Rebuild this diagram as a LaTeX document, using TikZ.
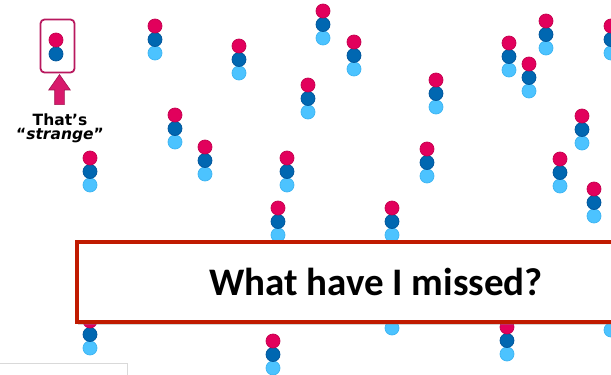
\documentclass[tikz,border=0pt]{standalone}
\usepackage{fontspec}
\setmainfont{DejaVu Sans}
\newfontfamily\calfont{Carlito}
\usepackage{xcolor}
\definecolor{dotred}{HTML}{E2005C}
\definecolor{dotreddark}{HTML}{C4004E}
\definecolor{dotblue}{HTML}{0067B1}
\definecolor{dotbluedark}{HTML}{00549A}
\definecolor{dotlight}{HTML}{4CC3FF}
\definecolor{dotlightdark}{HTML}{3DB4F2}
\definecolor{oddone}{HTML}{B8185E}
\definecolor{arrowpink}{HTML}{D8196C}
\definecolor{frame}{HTML}{C01A00}
\usetikzlibrary{shapes.arrows,shadows,positioning}

\begin{document}
\begin{tikzpicture}[x=1pt,y=-1pt,
  dot/.style={circle,inner sep=0pt,minimum size=14pt,line width=0.7pt},
  dotr/.style={dot,fill=dotred,draw=dotreddark},
  dotb/.style={dot,fill=dotblue,draw=dotbluedark},
  dotl/.style={dot,fill=dotlight,draw=dotlightdark},
  oddbox/.style={rectangle,rounded corners=4pt,draw=oddone,line width=1.8pt,
    minimum width=34pt,minimum height=53pt},
  uparr/.style={single arrow,fill=arrowpink,draw=arrowpink!75!black,line width=0.6pt,
    shape border rotate=90,single arrow head extend=6pt,
    minimum height=30pt,inner sep=4.5pt,single arrow tip angle=70},
  note/.style={font=\bfseries\fontsize{15.5}{17}\selectfont,align=center},
  bigbox/.style={rectangle,draw=frame,fill=white,line width=3.5pt,
    minimum width=598pt,minimum height=80pt,
    font=\calfont\bfseries\fontsize{39}{44}\selectfont,
    drop shadow={opacity=0.35,shadow xshift=1pt,shadow yshift=-3pt}}]
  \useasboundingbox (0,0) rectangle (611,375);
  \clip (0,0) rectangle (611,375);
  % the stacks of three
  \foreach \x/\y [count=\n] in {155/26,239/46,323/11,354/42,308/85,175/115,
      90/158,205/147,287/158,278/208,392/208,436/80,427/149,509/43,529/64,
      546/21,611/26,582/116,560/159,594/189,90/321,273/341,392/301,507/327,611/303}{
    \node[dotl] (l\n) at (\x,\y+27) {};
    \node[dotb] (b\n) at (\x,\y+13.5) {};
    \node[dotr] (r\n) at (\x,\y) {};
  }
  % the odd one
  \node[dotb] (ob) at (56,54) {};
  \node[dotr] (or) at (56,40) {};
  \node[oddbox] (odd) at (57.5,46) {};
  \node[uparr] (up) at (59.5,93) {};
  \node[note] (txt) at (60,128) {That’s\\[-3pt]“\textit{strange}”};
  \draw[black!15,line width=0.8pt] (-1,363) -- (127,363) -- (127,376);
  % question
  \node[bigbox] (q) at (376,282) {What have I missed?};
\end{tikzpicture}
\end{document}
